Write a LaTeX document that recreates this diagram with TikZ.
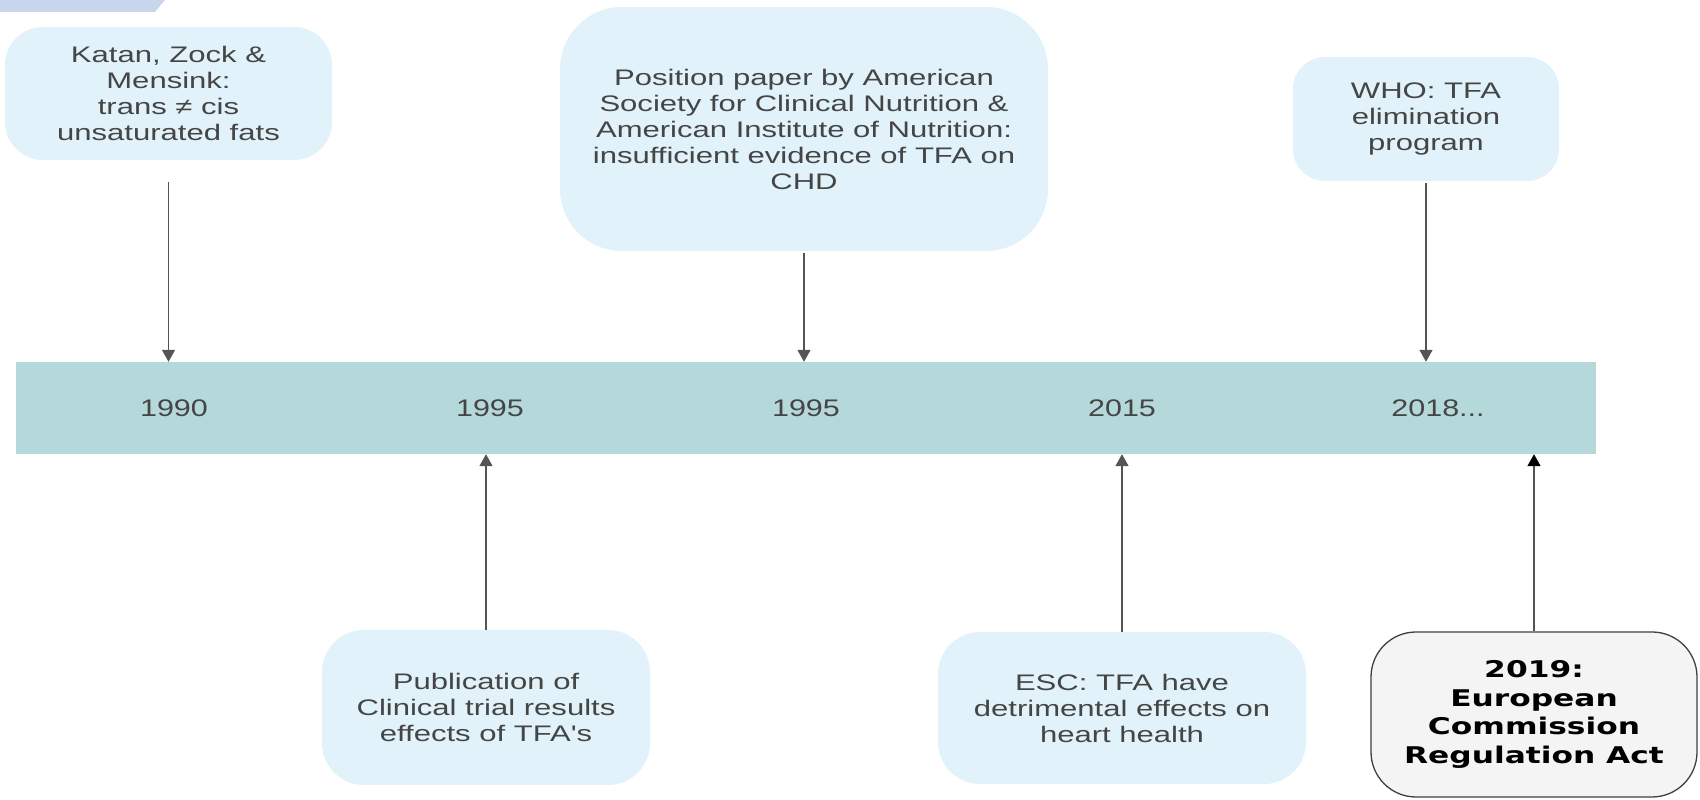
\documentclass[tikz,border=0pt]{standalone}
\usepackage{fontspec}
\setmainfont{Liberation Sans}
\newfontfamily\boxfont{Liberation Sans}[FakeStretch=1.38]
\newfontfamily\yearfont{Liberation Sans}[FakeStretch=1.27]
\newfontfamily\verdanalike{DejaVu Sans}[FakeStretch=1.36]
\usetikzlibrary{arrows.meta}
\definecolor{boxfill}{HTML}{E1F2FA}
\definecolor{barfill}{HTML}{B5D9DA}
\definecolor{txt}{HTML}{454545}
\definecolor{arrcol}{HTML}{555555}
\definecolor{cornerfill}{HTML}{C8D5EA}
\definecolor{greyfill}{HTML}{F4F4F4}
\tikzset{
  x=1pt,y=1pt,
  infobox/.style={fill=boxfill, draw=none, align=center, text=txt, inner sep=0pt,
     font=\boxfont\fontsize{22.5}{26}\selectfont},
  yearseg/.style={fill=barfill, draw=none, minimum width=316.5pt, minimum height=92pt,
     inner sep=0pt, text=txt, font=\yearfont\fontsize{24}{27}\selectfont},
  arr/.style={draw=arrcol, line width=1.5pt, -{Triangle[width=13pt,length=12pt]}},
  arrblack/.style={draw=arrcol, line width=1.5pt, -{Triangle[width=13pt,length=12pt,color=black]}},
  boldbox/.style={fill=greyfill, draw=black!75, line width=1.3pt, align=center, text=black,
     inner sep=0pt, font=\verdanalike\bfseries\fontsize{23}{28.5}\selectfont}
}
\begin{document}
\begin{tikzpicture}
\useasboundingbox (0,0) rectangle (1700,800);
% top-left corner decoration
\fill[cornerfill] (0,800) -- (165,800) -- (155,788) -- (0,788) -- cycle;

% timeline segments
\node[yearseg] (s1) at (174,392) {1990};
\node[yearseg] (s2) at (490,392) {1995};
\node[yearseg] (s3) at (806,392) {1995};
\node[yearseg] (s4) at (1122,392) {2015};
\node[yearseg] (s5) at (1438,392) {2018...};

% top boxes
\node[infobox, rounded corners=38pt, minimum width=327pt, minimum height=133pt] (katan) at (168.5,706.5)
  {Katan, Zock \&\\Mensink:\\trans ≠ cis\\unsaturated fats};
\node[infobox, rounded corners=62pt, minimum width=488pt, minimum height=244pt] (pos) at (804,671)
  {Position paper by American\\Society for Clinical Nutrition \&\\American Institute of Nutrition:\\insufficient evidence of TFA on\\CHD};
\node[infobox, rounded corners=32pt, minimum width=266pt, minimum height=124pt] (who) at (1426,681)
  {WHO: TFA\\elimination\\program};

% bottom boxes
\node[infobox, rounded corners=42pt, minimum width=328pt, minimum height=155pt] (pub) at (486,92.5)
  {Publication of\\Clinical trial results\\effects of TFA's};
\node[infobox, rounded corners=42pt, minimum width=368pt, minimum height=152pt] (esc) at (1122,92)
  {ESC: TFA have\\detrimental effects on\\heart health};
\node[boldbox, rounded corners=45pt, minimum width=326pt, minimum height=165pt] (eu) at (1534,85.5)
  {2019:\\European\\Commission\\Regulation Act};

% connectors
\draw[arr] ([yshift=-22pt]katan.south) -- (katan.south |- s1.north);
\draw[arr] ([yshift=-2pt]pos.south) -- (pos.south |- s3.north);
\draw[arr] ([yshift=-2pt]who.south) -- (who.south |- s5.north);
\draw[arr] (pub.north) -- (pub.north |- s2.south);
\draw[arr] (esc.north) -- (esc.north |- s4.south);
\draw[arrblack] (eu.north) -- (eu.north |- s5.south);
\end{tikzpicture}
\end{document}
